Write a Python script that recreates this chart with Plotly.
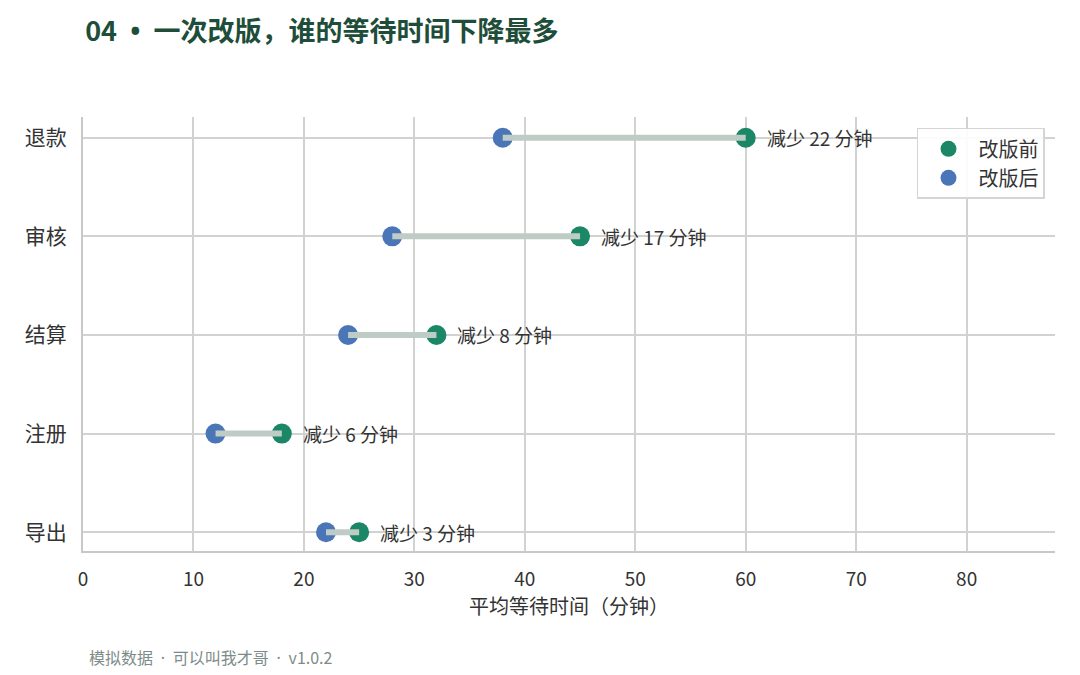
import plotly.graph_objects as go

categories = ["导出", "注册", "结算", "审核", "退款"]
before = [25, 18, 32, 45, 60]
after = [22, 12, 24, 28, 38]
x_ticks = [0, 10, 20, 30, 40, 50, 60, 70, 80]

GREEN = "#1b8766"
BLUE = "#4a76b8"
SEG = "#bfcbc5"
FONT = "Noto Sans CJK SC, Noto Sans, sans-serif"
LATIN = "font-family:'Noto Sans'"

fig = go.Figure()

fig.add_trace(go.Scatter(x=before, y=categories, mode="markers", name="改版前",
                         marker=dict(color=GREEN, size=20, line=dict(width=0))))
fig.add_trace(go.Scatter(x=after, y=categories, mode="markers", name="改版后",
                         marker=dict(color=BLUE, size=20, line=dict(width=0))))

for c, b, a in zip(categories, before, after):
    fig.add_trace(go.Scatter(x=[a, b], y=[c, c], mode="lines", showlegend=False,
                             line=dict(color=SEG, width=6), hoverinfo="skip"))
    fig.add_annotation(x=b, y=c, text=f"减少 {b - a} 分钟", showarrow=False,
                       xanchor="left", xshift=19, font=dict(size=19, color="#333333", family=FONT))

fig.update_layout(
    width=1072, height=667,
    paper_bgcolor="white", plot_bgcolor="white",
    margin=dict(l=75, r=25, t=109, b=124),
    font=dict(family=FONT, color="#333333"),
    title=dict(text=f"<b>04 <span style=\"{LATIN}\"> • </span> 一次改版，谁的等待时间下降最多</b>", x=0.072, xanchor="left",
               y=0.965, yanchor="middle", font=dict(size=27, color="#1e4d3a", family=FONT)),
    legend=dict(x=0.9897, xanchor="right", y=0.975, yanchor="top",
                bordercolor="#d5d5d5", borderwidth=1.5, bgcolor="rgba(255,255,255,0.9)",
                font=dict(size=20, color="#333333", family=FONT), itemsizing="trace",
                itemwidth=50),
    showlegend=True,
)

fig.update_xaxes(range=[0, 88], tickvals=x_ticks, showgrid=True, gridcolor="#d2d2d2", gridwidth=1.5,
                 showline=True, linecolor="#c8c8c8", linewidth=2, zeroline=False,
                 ticks="", ticklabelstandoff=10, tickfont=dict(size=19, color="#333333"),
                 title=dict(text="平均等待时间（分钟）", font=dict(size=20, color="#333333"), standoff=10))
fig.update_yaxes(categoryorder="array", categoryarray=categories, range=[-0.19, 4.21],
                 showgrid=True, gridcolor="#d2d2d2", gridwidth=1.5,
                 showline=True, linecolor="#c8c8c8", linewidth=2, zeroline=False,
                 ticks="", ticklabelstandoff=10, tickfont=dict(size=21, color="#333333"))

fig.add_annotation(text=f"模拟数据 <span style=\"{LATIN}\"> · </span> 可以叫我才哥 <span style=\"{LATIN}\"> · </span> v1.0.2",
                   xref="paper", yref="paper",
                   x=0.004, y=-0.245, xanchor="left", yanchor="middle", showarrow=False,
                   font=dict(size=16, color="#7d8c87", family=FONT))

fig.write_html("out.html")
